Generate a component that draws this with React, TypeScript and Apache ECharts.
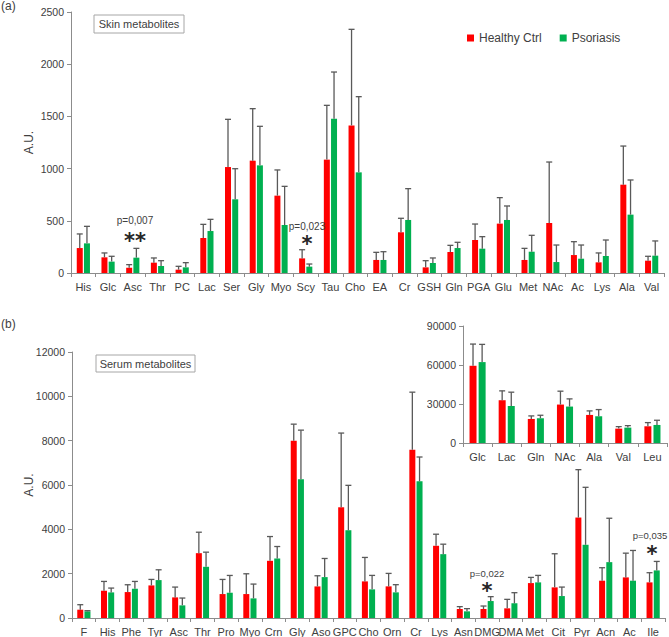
import React, { useEffect, useRef } from "react";
import * as echarts from "echarts";

// ---------- Panel (a): skin metabolites ----------
const skinCategories = ["His","Glc","Asc","Thr","PC","Lac","Ser","Gly","Myo","Scy","Tau","Cho","EA","Cr","GSH","Gln","PGA","Glu","Met","NAc","Ac","Lys","Ala","Val"];
const skinHealthy = [239,150,51,99,32,335,1015,1076,741,140,1086,1414,125,390,54,201,316,473,125,479,172,102,846,118];
const skinHealthyUpper = [374,192,80,144,64,466,1472,1574,987,223,1606,2334,198,524,118,265,469,722,236,1063,300,192,1216,160];
const skinPsoriasis = [284,109,147,67,54,402,706,1031,460,61,1478,964,125,508,96,239,233,508,204,105,137,163,559,166];
const skinPsoriasisUpper = [447,160,236,118,99,514,999,1405,830,86,1925,1689,204,808,144,294,348,642,361,268,268,316,891,307];
const skinTicks = [0, 500, 1000, 1500, 2000, 2500];

// ---------- Panel (b): serum metabolites ----------
const serumCategories = ["F","His","Phe","Tyr","Asc","Thr","Pro","Myo","Crn","Gly","Aso","GPC","Cho","Orn","Cr","Lys","Asn","DMG","DMA","Met","Cit","Pyr","Acn","Ac","Ile"];
const serumHealthy = [375,1230,1170,1470,930,2925,1080,1080,2580,7995,1425,4995,1652,1427,7592,3258,405,405,436,1575,1382,4532,1683,1832,1607];
const serumHealthyUpper = [600,1650,1500,1740,1395,3870,1740,1995,3675,8745,1905,8343,2732,2012,10188,3780,513,540,841,1832,2898,6692,2268,2925,2043];
const serumPsoriasis = [300,1155,1320,1710,570,2310,1140,885,2685,6255,1845,3960,1292,1157,6166,2880,300,765,661,1607,990,3303,2520,1683,2147];
const serumPsoriasisUpper = [330,1350,1650,2175,900,2970,1920,1530,3225,8475,2685,5985,1922,1503,7263,3330,423,963,1142,1922,1395,5896,4500,3047,2552];
const serumTicks = [0, 2000, 4000, 6000, 8000, 10000, 12000];

// ---------- Inset: high-concentration serum metabolites ----------
const insetCategories = ["Glc","Lac","Gln","NAc","Ala","Val","Leu"];
const insetHealthy = [59400,32900,18500,29570,21600,11060,12860];
const insetHealthyUpper = [76100,40100,20830,39860,24690,12600,15690];
const insetPsoriasis = [62230,28540,19030,28030,20570,11830,13890];
const insetPsoriasisUpper = [75860,39090,21340,33940,25710,13370,17490];
const insetTicks = [0, 30000, 60000, 90000];

const RED = "#ff0000";
const GREEN = "#00b050";
const AXIS = "#8c8c8c";
const TEXT = "#404040";
const ERR = "#595959";
const FONT = "Liberation Sans, Arial, sans-serif";

function errSeries(values: number[], uppers: number[], xAxisIndex: number, offset: number, capW: number) {
  return {
    type: "custom",
    xAxisIndex,
    yAxisIndex: xAxisIndex,
    z: 5,
    silent: true,
    data: values.map((v, i) => [i, v, uppers[i]]),
    encode: { x: 0, y: [1, 2] },
    renderItem: (params: any, api: any) => {
      const base = api.coord([api.value(0), api.value(1)]);
      const top = api.coord([api.value(0), api.value(2)]);
      const x = base[0] + offset;
      const style = { stroke: ERR, lineWidth: 1.3 };
      return {
        type: "group",
        children: [
          { type: "line", shape: { x1: x, y1: base[1], x2: x, y2: top[1] }, style },
          { type: "line", shape: { x1: x - capW / 2, y1: top[1], x2: x + capW / 2, y2: top[1] }, style },
        ],
      };
    },
  };
}

function catAxis(data: string[], gridIndex: number) {
  return {
    type: "category",
    gridIndex,
    data,
    axisLine: { lineStyle: { color: AXIS, width: 1 } },
    axisTick: { show: true, length: 4, lineStyle: { color: AXIS } },
    axisLabel: { color: TEXT, fontSize: 11, fontFamily: FONT, margin: 8, interval: 0 },
  };
}

function valAxis(ticks: number[], gridIndex: number, name: string, nameGap: number) {
  return {
    type: "value",
    gridIndex,
    min: ticks[0],
    max: ticks[ticks.length - 1],
    interval: ticks[1] - ticks[0],
    name,
    nameLocation: "middle",
    nameGap,
    nameMoveOverlap: false,
    nameTextStyle: { color: TEXT, fontSize: 12, fontFamily: FONT },
    axisLine: { show: true, lineStyle: { color: AXIS, width: 1 } },
    axisTick: { show: true, length: 4, lineStyle: { color: AXIS } },
    splitLine: { show: false },
    axisLabel: {
      color: TEXT,
      fontSize: 10.5,
      fontFamily: FONT,
      margin: 7,
      formatter: (v: number) => String(v),
    },
  };
}

function barSeries(name: string, data: number[], idx: number, color: string, width: number, gap: string) {
  return {
    type: "bar",
    name,
    xAxisIndex: idx,
    yAxisIndex: idx,
    data,
    barWidth: width,
    barGap: gap,
    itemStyle: { color },
    z: 2,
  };
}

export default function App() {
  const ref = useRef<HTMLDivElement>(null);
  useEffect(() => {
    if (!ref.current) return;
    const chart = echarts.init(ref.current, undefined, { renderer: "svg" });
    const w = 6, gapA = "20%";
    const offA = 3.6;
    const wi = 7, gapI = "30%";
    const offI = 4.55;
    const txt = (x: number, y: number, text: string, size: number, align = "center") => ({
      type: "text",
      x, y,
      style: {
        text, fontSize: size, fontFamily: FONT, fill: TEXT, textAlign: align,
        textVerticalAlign: "middle",
      },
      z: 10,
    });
    const star = (x: number, y: number) => ({
      type: "text",
      x, y,
      style: {
        text: "*", fontSize: 21, fontFamily: "DejaVu Sans, sans-serif", fill: "#262626",
        textAlign: "center", textVerticalAlign: "middle", fontWeight: "bold",
      },
      z: 10,
    });
    chart.setOption({
      animation: false,
      backgroundColor: "#ffffff",
      textStyle: { fontFamily: FONT },
      legend: {
        data: ["Healthy Ctrl", "Psoriasis"],
        left: 462,
        top: 27,
        icon: "rect",
        itemWidth: 7,
        itemHeight: 7,
        itemGap: 18,
        textStyle: { color: TEXT, fontSize: 12, fontFamily: FONT },
      },
      grid: [
        { left: 71, top: 12, width: 593, height: 261 },
        { left: 72, top: 352, width: 593, height: 266 },
        { left: 463, top: 326, width: 204, height: 117 },
      ],
      xAxis: [catAxis(skinCategories, 0), catAxis(serumCategories, 1), catAxis(insetCategories, 2)],
      yAxis: [
        valAxis(skinTicks, 0, "A.U.", 36),
        valAxis(serumTicks, 1, "A.U.", 37),
        valAxis(insetTicks, 2, "", 10),
      ],
      series: [
        barSeries("Healthy Ctrl", skinHealthy, 0, RED, w, gapA),
        barSeries("Psoriasis", skinPsoriasis, 0, GREEN, w, gapA),
        errSeries(skinHealthy, skinHealthyUpper, 0, -offA, 6),
        errSeries(skinPsoriasis, skinPsoriasisUpper, 0, offA, 6),
        barSeries("Healthy Ctrl", serumHealthy, 1, RED, w, gapA),
        barSeries("Psoriasis", serumPsoriasis, 1, GREEN, w, gapA),
        errSeries(serumHealthy, serumHealthyUpper, 1, -offA, 6),
        errSeries(serumPsoriasis, serumPsoriasisUpper, 1, offA, 6),
        barSeries("Healthy Ctrl", insetHealthy, 2, RED, wi, gapI),
        barSeries("Psoriasis", insetPsoriasis, 2, GREEN, wi, gapI),
        errSeries(insetHealthy, insetHealthyUpper, 2, -offI, 6),
        errSeries(insetPsoriasis, insetPsoriasisUpper, 2, offI, 6),
      ],
      graphic: [
        txt(1, 6, "(a)", 12, "left"),
        txt(1, 324, "(b)", 12, "left"),
        {
          type: "rect",
          shape: { x: 94, y: 15, width: 90, height: 18 },
          style: { fill: "#ffffff", stroke: "#a6a6a6", lineWidth: 1 },
          z: 9,
        },
        txt(139, 24, "Skin metabolites", 11),
        {
          type: "rect",
          shape: { x: 96, y: 355, width: 99, height: 17 },
          style: { fill: "#ffffff", stroke: "#a6a6a6", lineWidth: 1 },
          z: 9,
        },
        txt(145.5, 363.5, "Serum metabolites", 11),
        txt(135, 220, "p=0,007", 10),
        star(129.5, 241),
        star(140.5, 241),
        txt(307, 226, "p=0,023", 10),
        star(307, 244),
        txt(487, 573, "p=0,022", 9.5),
        star(487, 591),
        txt(650, 535, "p=0,035", 9.5),
        star(652, 554),
      ],
    });
    return () => chart.dispose();
  }, []);
  return (
    <div
      ref={ref}
      style={{ position: "fixed", left: 0, top: 0, width: 669, height: 637, background: "#fff" }}
    />
  );
}
